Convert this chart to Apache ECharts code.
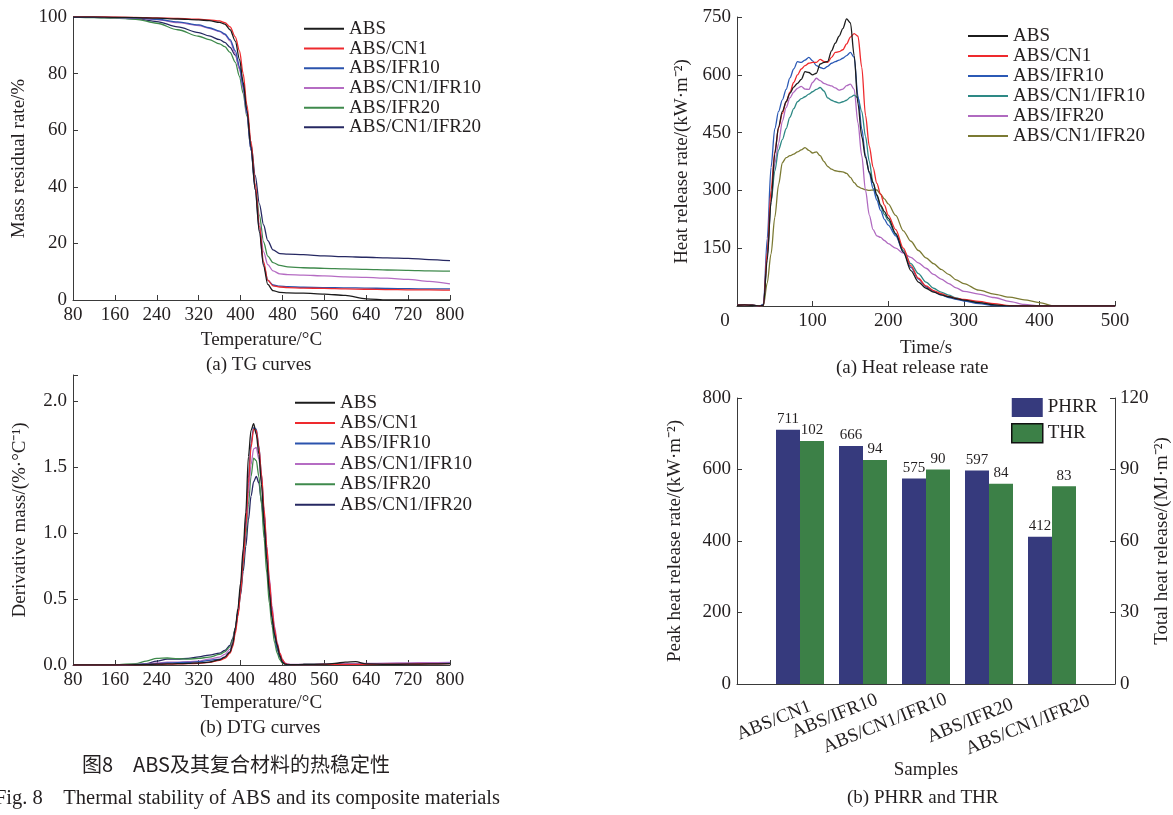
<!DOCTYPE html>
<html>
<head>
<meta charset="utf-8">
<script src="https://cdn.jsdelivr.net/npm/echarts@6/dist/echarts.min.js"></script>
<style>
  html, body { margin: 0; padding: 0; background: #fff; }
  #chart { width: 1173px; height: 815px; }
</style>
</head>
<body>
<div id="chart"></div>
<script>
// sample names (legend order)
const samples = ['ABS', 'ABS/CN1', 'ABS/IFR10', 'ABS/CN1/IFR10', 'ABS/IFR20', 'ABS/CN1/IFR20']

// (a) TG curves, mass residual rate (%)
const tgTemp = [80,120,160,200,240,280,320,340,360,370,380,390,398,405,412,420,428,436,444,452,462,475,490,520,560,600,640,680,720,760,800]
const tgABS = [100,100,99.9,99.8,99.6,99.3,99,98.7,98.1,97.5,95.5,91.5,85,77,67,54,39,24,12,5.5,3.3,2.7,2.5,2.4,2.1,1.6,0.4,0,0,0,0]
const tgCN1 = [100.3,100.2,100,99.9,99.7,99.5,99.2,99,98.6,98,96.5,93,88,80,69,56,41,26,13.5,7,5,4.6,4.4,4.2,4.1,3.9,3.8,3.7,3.6,3.6,3.5]
const tgIFR10 = [100,100,99.9,99.7,99.2,98.3,97.2,96.2,95,94,92,88,82.5,75.5,66,53,39,24.5,12.5,7,5.3,4.9,4.7,4.5,4.4,4.3,4.2,4.1,4.0,3.9,3.9]
const tgCN1IFR10 = [100,99.9,99.8,99.6,99.1,98,97,96,94.8,93.8,91.5,87,81.5,74.5,65.5,53,40,27,17,12.5,10.3,9.2,9.0,8.8,8.5,8.2,8.0,7.7,7.3,6.6,5.7]
const tgIFR20 = [100,99.8,99.6,99.2,97.8,95.5,93.2,92,90.5,89.5,87.5,84,79,73,65,53,40.5,30,20.5,15.5,13.2,12.2,11.7,11.4,11.2,11,10.8,10.6,10.5,10.3,10.2]
const tgCN1IFR20 = [100,99.9,99.7,99.4,98.4,96.5,94.5,93.3,92,91,89.3,86.5,82,76,67,55,44,34,26.5,21,17.7,16.4,16.2,16,15.6,15.3,15.1,14.9,14.7,14.3,13.9]

// (b) DTG curves, derivative mass (%/°C)
const dtgTemp = [80,120,160,200,220,240,260,280,300,320,340,360,370,380,385,390,395,400,405,410,415,420,425,430,435,440,445,450,455,460,465,470,475,480,485,490,500,520,560,580,600,620,640,680,720,760,800]
const dtgABS = [0,0,0,0.002,0.004,0.006,0.008,0.01,0.012,0.015,0.022,0.04,0.06,0.1,0.16,0.28,0.43,0.62,0.88,1.16,1.58,1.78,1.83,1.75,1.6,1.37,1.08,0.8,0.55,0.36,0.23,0.15,0.07,0.02,0.006,0.003,0.002,0.004,0.006,0.012,0.022,0.025,0.008,0.005,0.006,0.008,0.01]
const dtgCN1 = [0,0,0,0.002,0.003,0.005,0.006,0.008,0.01,0.013,0.02,0.035,0.05,0.09,0.14,0.24,0.37,0.55,0.78,1.05,1.38,1.65,1.79,1.78,1.65,1.45,1.18,0.9,0.64,0.42,0.27,0.16,0.09,0.04,0.012,0.004,0.002,0.003,0.004,0.004,0.005,0.005,0.005,0.006,0.007,0.008,0.01]
const dtgIFR10 = [0,0,0,0.003,0.006,0.01,0.015,0.018,0.02,0.025,0.035,0.045,0.06,0.1,0.15,0.26,0.4,0.58,0.82,1.1,1.42,1.68,1.8,1.79,1.66,1.44,1.15,0.86,0.6,0.38,0.23,0.13,0.07,0.025,0.008,0.003,0.002,0.003,0.004,0.005,0.005,0.005,0.006,0.007,0.008,0.01,0.012]
const dtgCN1IFR10 = [0,0,0,0.004,0.01,0.015,0.022,0.022,0.025,0.03,0.045,0.06,0.08,0.12,0.17,0.27,0.4,0.57,0.79,1.03,1.3,1.52,1.64,1.65,1.56,1.39,1.15,0.9,0.66,0.45,0.29,0.17,0.09,0.04,0.015,0.006,0.004,0.005,0.006,0.008,0.01,0.011,0.012,0.014,0.016,0.018,0.02]
const dtgIFR20 = [0,0,0.002,0.01,0.03,0.05,0.053,0.048,0.045,0.05,0.06,0.08,0.1,0.14,0.19,0.28,0.4,0.56,0.76,0.98,1.22,1.43,1.57,1.55,1.43,1.22,0.96,0.7,0.47,0.3,0.17,0.09,0.04,0.015,0.006,0.003,0.003,0.004,0.005,0.006,0.007,0.008,0.008,0.009,0.01,0.011,0.012]
const dtgCN1IFR20 = [0,0,0,0.003,0.01,0.03,0.045,0.045,0.05,0.062,0.075,0.09,0.11,0.15,0.2,0.28,0.39,0.53,0.71,0.9,1.1,1.28,1.39,1.43,1.38,1.24,1.04,0.8,0.57,0.37,0.22,0.12,0.06,0.025,0.01,0.004,0.003,0.004,0.005,0.006,0.007,0.008,0.008,0.009,0.01,0.011,0.012]

// (a) heat release rate (kW/m2) vs time (s)
const hrrTime = [0,10,20,30,35,40,45,50,55,60,65,70,75,80,85,90,95,100,105,110,115,120,125,130,135,140,145,150,155,160,165,170,175,180,185,190,195,200,210,220,230,240,250,260,270,280,290,300,320,340,360,380,400,420,450,500]
const hrrABS = [2,3,2,0,2,120,270,395,465,505,530,552,568,578,588,608,606,600,604,628,632,635,662,682,700,720,745,735,650,525,440,385,348,320,288,262,245,228,188,140,92,62,46,36,29,24,19,15,9,3,0,0,0,0,0,0]
const hrrCN1 = [2,3,2,0,2,140,300,400,462,500,530,555,580,600,615,624,630,632,632,640,635,632,645,658,660,665,680,698,707,700,620,495,415,360,318,290,262,236,198,150,105,72,52,40,32,25,20,17,12,6,1,0,0,0,0,0]
const hrrIFR10 = [2,3,2,0,5,175,360,460,505,535,562,592,615,634,632,638,645,636,624,619,616,622,630,634,638,643,650,658,645,545,460,390,345,305,275,248,225,210,182,140,100,70,50,38,29,22,17,13,6,1,0,0,0,0,0,0]
const hrrCN1IFR10 = [2,3,2,0,2,130,270,350,405,432,460,490,512,530,538,543,550,556,562,567,558,540,534,530,527,530,534,542,547,540,505,440,375,320,285,258,238,222,185,145,110,84,62,46,36,28,21,15,8,3,0,0,0,0,0,0]
const hrrIFR20 = [2,3,2,0,2,130,270,370,422,480,515,540,555,565,570,563,562,580,591,585,578,574,571,566,560,563,572,576,562,475,390,300,236,198,182,178,170,162,150,137,126,112,98,82,70,58,47,38,31,22,12,4,0,0,0,0]
const hrrCN1IFR20 = [2,3,2,0,2,60,135,230,315,372,385,390,394,400,405,411,404,397,400,390,375,362,355,351,349,348,344,334,320,310,305,302,300,301,301,290,278,265,235,195,168,144,125,110,95,82,68,58,41,31,23,16,9,0,1,1]

// (b) PHRR and THR
const barSamples = ['ABS/CN1', 'ABS/IFR10', 'ABS/CN1/IFR10', 'ABS/IFR20', 'ABS/CN1/IFR20']
const phrr = [711, 666, 575, 597, 412]
const thr = [102, 94, 90, 84, 83]

const tgColors = ['#1c1c1c', '#ee2a2e', '#2b53ad', '#b56cc3', '#3f8a4c', '#262862']
const hrrColors = ['#1c1c1c', '#ee2a2e', '#2b59b5', '#2e8985', '#b06ac0', '#7b7a33']

const font = 'Liberation Serif'
const textColor = '#231f20'
const axisColor = '#3a3a3a'

function pairs(xs, ys) {
  return xs.map((x, i) => [x, ys[i]])
}

function lineSeries(prefix, xs, list, colors, idx) {
  return list.map((ys, i) => ({
    name: prefix + samples[i],
    type: 'line',
    xAxisIndex: idx,
    yAxisIndex: idx,
    data: pairs(xs, ys),
    symbol: 'none',
    smooth: 0.3,
    smoothMonotone: 'x',
    lineStyle: { width: 1.3, color: colors[i] },
    itemStyle: { color: colors[i] },
    z: 10 - i,
  }))
}

function valueAxis(opt) {
  return Object.assign({
    type: 'value',
    splitLine: { show: false },
    axisLine: { show: true, onZero: false, lineStyle: { color: axisColor, width: 1 } },
    axisTick: { show: true, inside: true, length: 5, lineStyle: { color: axisColor } },
    axisLabel: { color: textColor, fontFamily: font, fontSize: 19, margin: 6 },
    nameLocation: 'middle',
    nameTextStyle: { color: textColor, fontFamily: font, fontSize: 19 },
  }, opt)
}

function lineLegend(prefix, left, top, rowHeight) {
  return {
    left: left,
    top: top,
    padding: 0,
    orient: 'vertical',
    itemWidth: 40,
    itemHeight: 10,
    itemGap: 0,
    itemStyle: { opacity: 0 },
    data: samples.map(s => prefix + s),
    formatter: n => n.slice(prefix.length),
    textStyle: { color: textColor, fontFamily: font, fontSize: 19, lineHeight: rowHeight },
    selectedMode: false,
  }
}

// small per-label shifts of the rotated sample names (along text, across text)
const labelShift = [[0, 0], [6, -5], [12, -3], [13, 3], [27, 5]]
const labelRich = {}
labelShift.forEach((s, i) => {
  labelRich['s' + i] = {
    fontFamily: font, fontSize: 19, color: textColor,
    padding: [Math.max(0, 2 * s[1]), -s[0], Math.max(0, -2 * s[1]), 0],
  }
})

const chart = echarts.init(document.getElementById('chart'))

const padded = arr => [null].concat(arr, [null])

const option = {
  animation: false,
  backgroundColor: '#fff',
  grid: [
    { left: 73, top: 17, width: 377, height: 283 },
    { left: 73, top: 375, width: 377, height: 290 },
    { left: 737, top: 17, width: 378, height: 289 },
    { left: 737, top: 398, width: 378, height: 286 },
  ],
  xAxis: [
    valueAxis({ gridIndex: 0, min: 80, max: 800, interval: 80, name: 'Temperature/°C', nameGap: 31 }),
    valueAxis({ gridIndex: 1, min: 80, max: 800, interval: 80, name: 'Temperature/°C', nameGap: 29 }),
    valueAxis({
      gridIndex: 2, min: 0, max: 500, interval: 100, name: 'Time/s', nameGap: 33,
      axisLabel: {
        color: textColor, fontFamily: font, fontSize: 19, margin: 6,
        formatter: v => (v === 0 ? '{z|0}' : String(v)),
        rich: { z: { fontFamily: font, fontSize: 19, color: textColor, padding: [0, 24, 0, 0] } },
      },
    }),
    {
      type: 'category',
      gridIndex: 3,
      data: padded(barSamples).map(s => s || ''),
      boundaryGap: false,
      axisLine: { lineStyle: { color: axisColor } },
      axisTick: { show: false },
      axisLabel: {
        color: textColor, fontFamily: font, fontSize: 19, rotate: 22, interval: 0,
        margin: 26, padding: [0, -11, 0, 0],
        formatter: (v, i) => (v ? '{s' + (i - 1) + '|' + v + '}' : ''),
        rich: labelRich,
      },
      name: 'Samples',
      nameLocation: 'middle',
      nameGap: 72,
      nameTextStyle: { color: textColor, fontFamily: font, fontSize: 19 },
    },
  ],
  yAxis: [
    valueAxis({ gridIndex: 0, min: 0, max: 100, interval: 20, name: 'Mass residual rate/%', nameGap: 44 }),
    valueAxis({
      gridIndex: 1, min: 0, max: 2.2, interval: 0.5, name: 'Derivative mass/(%·°C⁻¹)', nameGap: 43,
      axisLabel: {
        color: textColor, fontFamily: font, fontSize: 19, margin: 6,
        formatter: v => (v > 2.01 ? '' : v.toFixed(1)),
      },
    }),
    valueAxis({
      gridIndex: 2, min: 0, max: 750, interval: 150, name: 'Heat release rate/(kW·m⁻²)', nameGap: 45,
      axisLabel: { color: textColor, fontFamily: font, fontSize: 19, margin: 6, showMinLabel: false },
    }),
    valueAxis({ gridIndex: 3, min: 0, max: 800, interval: 200, name: 'Peak heat release rate/(kW·m⁻²)', nameGap: 52 }),
    valueAxis({
      gridIndex: 3, position: 'right', min: 0, max: 120, interval: 30,
      name: 'Total heat release/(MJ·m⁻²)', nameGap: 36,
      axisLabel: { color: textColor, fontFamily: font, fontSize: 19, margin: 5 },
    }),
  ],
  legend: [
    lineLegend('tg:', 303, 19, 19.7),
    lineLegend('dtg:', 294, 392.5, 20.4),
    lineLegend('hrr:', 967, 26, 20),
    {
      left: 1011,
      top: 398,
      padding: 0,
      orient: 'vertical',
      icon: 'rect',
      itemWidth: 31,
      itemHeight: 19,
      itemGap: 6,
      selectedMode: false,
      data: [
        { name: 'PHRR' },
        { name: 'THR', itemStyle: { borderColor: '#111', borderWidth: 1.5 } },
      ],
      textStyle: { color: textColor, fontFamily: font, fontSize: 19 },
    },
  ],
  series: [
    ...lineSeries('tg:', tgTemp, [tgABS, tgCN1, tgIFR10, tgCN1IFR10, tgIFR20, tgCN1IFR20], tgColors, 0),
    ...lineSeries('dtg:', dtgTemp, [dtgABS, dtgCN1, dtgIFR10, dtgCN1IFR10, dtgIFR20, dtgCN1IFR20], tgColors, 1),
    ...lineSeries('hrr:', hrrTime, [hrrABS, hrrCN1, hrrIFR10, hrrCN1IFR10, hrrIFR20, hrrCN1IFR20], hrrColors, 2),
    {
      name: 'PHRR',
      type: 'bar',
      xAxisIndex: 3,
      yAxisIndex: 3,
      data: padded(phrr),
      barWidth: 24,
      barGap: '0%',
      itemStyle: { color: '#363a7d' },
      label: { show: true, position: 'top', distance: 3, color: textColor, fontFamily: font, fontSize: 15 },
    },
    {
      name: 'THR',
      type: 'bar',
      xAxisIndex: 3,
      yAxisIndex: 4,
      data: padded(thr),
      barWidth: 24,
      barGap: '0%',
      itemStyle: { color: '#3c8047' },
      label: { show: true, position: 'top', distance: 3, color: textColor, fontFamily: font, fontSize: 15 },
    },
  ],
  graphic: [
    { type: 'text', left: 206, top: 356, style: { text: '(a) TG curves', font: '19px "Liberation Serif"', fill: textColor } },
    { type: 'text', left: 200, top: 719, style: { text: '(b) DTG curves', font: '19px "Liberation Serif"', fill: textColor } },
    { type: 'text', left: 82, top: 754, style: { text: '图8\u3000ABS及其复合材料的热稳定性', font: '20px "Noto Sans CJK SC"', fill: textColor } },
    { type: 'text', right: 673, top: 788, style: { text: 'Fig. 8\u2003Thermal stability of ABS and its composite materials', font: '20.5px "Liberation Serif"', fill: textColor } },
    { type: 'text', left: 836, top: 359, style: { text: '(a) Heat release rate', font: '19px "Liberation Serif"', fill: textColor } },
    { type: 'text', left: 847, top: 789, style: { text: '(b) PHRR and THR', font: '19px "Liberation Serif"', fill: textColor } },
  ],
}

chart.setOption(option)
</script>
</body>
</html>
